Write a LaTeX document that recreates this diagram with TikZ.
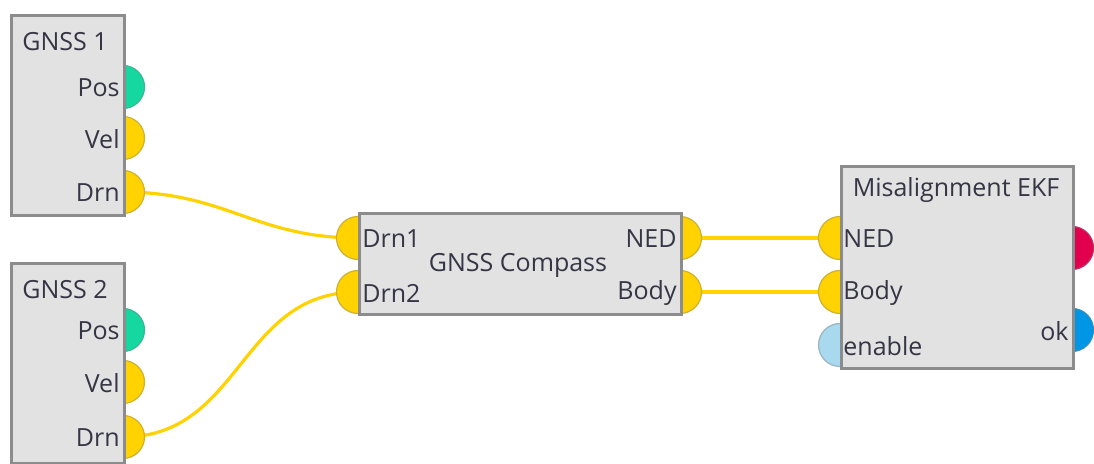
\documentclass[tikz,border=0pt]{standalone}
\usepackage{fontspec}
\setmainfont{Open Sans}
\usetikzlibrary{backgrounds}
\definecolor{blockfill}{HTML}{E2E2E2}
\definecolor{blockline}{HTML}{8C8C8C}
\definecolor{txt}{HTML}{353545}
\definecolor{pyellow}{HTML}{FFD200}
\definecolor{pgreen}{HTML}{14D8A0}
\definecolor{pred}{HTML}{E2004E}
\definecolor{pblue}{HTML}{0096E6}
\definecolor{penable}{HTML}{A9D9EE}
\tikzset{
  block/.style={draw=blockline, fill=blockfill, line width=1.5pt, anchor=north west, inner sep=0pt},
  port/.style={circle, fill=#1, draw=#1!60!gray, line width=0.6pt, minimum size=21.5pt, inner sep=0pt},
  wire/.style={draw=pyellow, line width=1.6pt},
  lbl/.style={font=\fontsize{12.5}{15}\selectfont, text=txt, inner sep=0pt}
}
\begin{document}
\begin{tikzpicture}[x=0.5pt, y=-0.5pt]
\useasboundingbox (0,0) rectangle (1094,464);
% ports (behind blocks)
\node[port=pgreen]  (gA-pos) at (123,87) {};
\node[port=pyellow] (gA-vel) at (123,138) {};
\node[port=pyellow] (gA-drn) at (123,192) {};
\node[port=pgreen]  (gB-pos) at (123,330) {};
\node[port=pyellow] (gB-vel) at (123,382) {};
\node[port=pyellow] (gB-drn) at (123,437) {};
\node[port=pyellow] (cmp-drn1) at (358,238) {};
\node[port=pyellow] (cmp-drn2) at (358,292) {};
\node[port=pyellow] (cmp-ned) at (680,238) {};
\node[port=pyellow] (cmp-body) at (680,292) {};
\node[port=pyellow] (ekf-ned) at (840,238) {};
\node[port=pyellow] (ekf-body) at (840,292) {};
\node[port=penable] (ekf-en) at (840,345) {};
\node[port=pred]    (ekf-out) at (1072,248) {};
\node[port=pblue]   (ekf-ok) at (1072,330) {};
% blocks
\node[block, minimum width=56.5pt, minimum height=100pt] (gA) at (10,14) {};
\node[block, minimum width=56.5pt, minimum height=100pt] (gB) at (10,262) {};
\node[block, minimum width=161pt, minimum height=50.5pt] (cmp) at (358,212) {};
\node[block, minimum width=116pt, minimum height=101pt] (ekf) at (840,165) {};
% labels
\node[lbl] (gA-title) at (65,42) {GNSS 1};
\node[lbl, anchor=east] at (120,88) {Pos};
\node[lbl, anchor=east] at (120,139) {Vel};
\node[lbl, anchor=east] at (120,193) {Drn};
\node[lbl] (gB-title) at (65,290) {GNSS 2};
\node[lbl, anchor=east] at (120,331) {Pos};
\node[lbl, anchor=east] at (120,383) {Vel};
\node[lbl, anchor=east] at (120,438) {Drn};
\node[lbl] (cmp-title) at (518,265) {GNSS Compass};
\node[lbl, anchor=west] at (362,239) {Drn1};
\node[lbl, anchor=west] at (362,293) {Drn2};
\node[lbl, anchor=east] at (677,239) {NED};
\node[lbl, anchor=east] at (677,293) {Body};
\node[lbl] (ekf-title) at (956,190) {Misalignment EKF};
\node[lbl, anchor=west] at (843,239) {NED};
\node[lbl, anchor=west] at (843,293) {Body};
\node[lbl, anchor=west] at (843,346) {enable};
\node[lbl, anchor=east] at (1069,331) {ok};
% wires
\begin{scope}[on background layer]
\draw[wire] (gA-drn.center) to[out=0, in=180, looseness=1.1] (cmp-drn1.center);
\draw[wire] (gB-drn.center) to[out=0, in=180, looseness=1.1] (cmp-drn2.center);
\draw[wire] (cmp-ned.center) -- (ekf-ned.center);
\draw[wire] (cmp-body.center) -- (ekf-body.center);
\end{scope}
\end{tikzpicture}
\end{document}
